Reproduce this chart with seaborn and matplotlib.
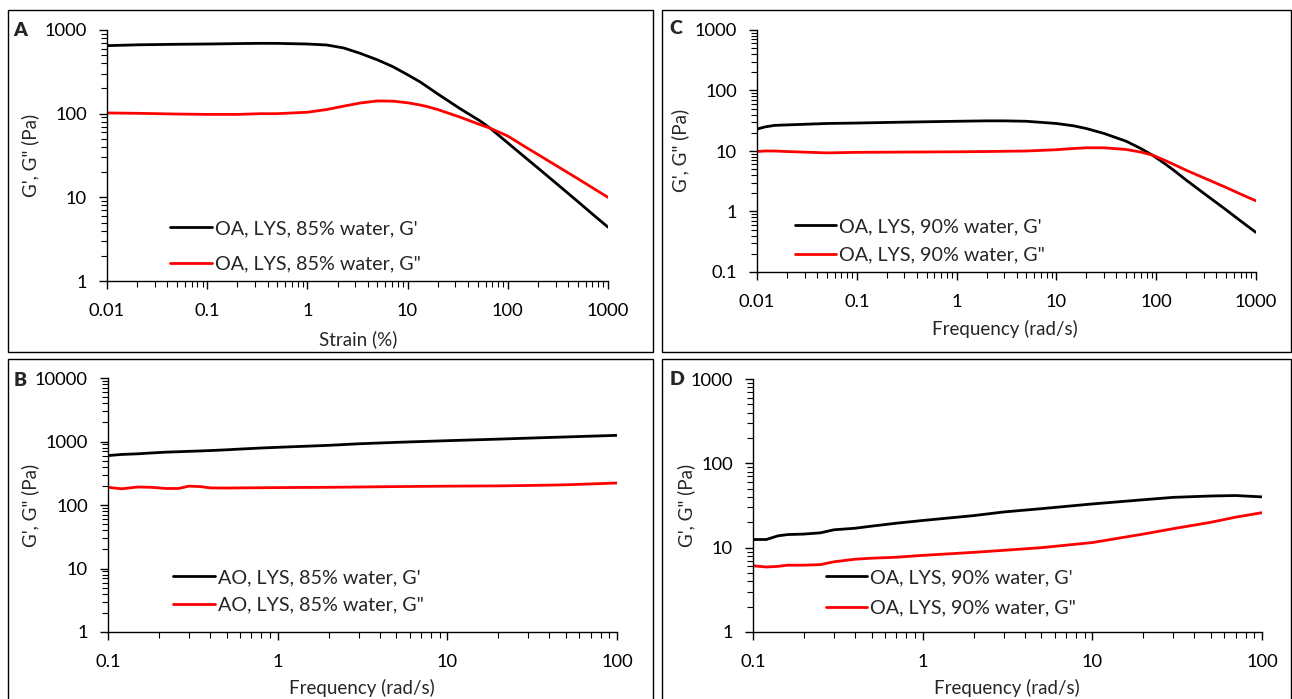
import numpy as np
import pandas as pd
import matplotlib
matplotlib.use("Agg")
import matplotlib.pyplot as plt
import seaborn as sns
from matplotlib.ticker import LogLocator, FuncFormatter, NullFormatter
from matplotlib.patches import Rectangle

# ---------------- data ----------------
# Panel A: strain sweep, OA, LYS, 85% water
a_x = [0.01, 0.02, 0.05, 0.1, 0.2, 0.34, 0.5, 1, 1.56, 2.3, 3.35, 5, 7.14, 10, 13.3, 15.5, 20, 33.3, 52.8, 66.7, 100, 150, 200, 300, 500, 700, 1000]
a_g1 = [650, 665, 675, 680, 688, 693, 692, 680, 662, 610, 527, 440, 364, 292, 240, 212, 172, 115, 82, 67, 44.7, 29.8, 22.4, 14.9, 8.9, 6.3, 4.4]
a_g2 = [102, 101, 99, 98, 98, 100, 100, 104, 112, 123, 134, 142, 141, 135, 127, 122, 112, 91, 74, 67, 54, 40, 32.5, 24.2, 16.7, 13, 10]

# Panel B: frequency sweep, AO, LYS, 85% water
b_x = [0.1, 0.12, 0.15, 0.18, 0.22, 0.26, 0.3, 0.35, 0.4, 0.5, 0.6, 0.8, 1, 2, 3, 5, 10, 20, 30, 50, 100]
b_g1 = [600, 625, 640, 660, 680, 690, 700, 710, 720, 740, 760, 790, 810, 870, 920, 970, 1030, 1090, 1130, 1180, 1250]
b_g2 = [190, 180, 192, 190, 182, 182, 198, 195, 186, 185, 186, 187, 188, 190, 192, 195, 198, 200, 203, 208, 222]

# Panel C: frequency sweep, OA, LYS, 90% water
c_x = [0.01, 0.012, 0.015, 0.02, 0.05, 0.1, 0.3, 1, 2, 3, 5, 10, 15, 20, 30, 50, 70, 91, 120, 150, 200, 300, 500, 700, 1000]
c_g1 = [23, 25, 26.5, 27, 28.5, 29, 30, 31, 31.5, 31.5, 31, 28.5, 26, 23.5, 19.5, 14.5, 11, 8.6, 6.3, 4.8, 3.3, 2.0, 1.07, 0.7, 0.45]
c_g2 = [9.8, 10, 10, 9.8, 9.3, 9.5, 9.6, 9.7, 9.8, 9.9, 10, 10.5, 11, 11.3, 11.3, 10.6, 9.6, 8.6, 7.1, 6.0, 4.8, 3.6, 2.5, 1.94, 1.5]

# Panel D: frequency sweep, OA, LYS, 90% water
d_x = [0.1, 0.12, 0.14, 0.16, 0.2, 0.25, 0.3, 0.4, 0.5, 0.7, 1, 2, 3, 5, 10, 20, 30, 50, 70, 100]
d_g1 = [12.5, 12.5, 13.8, 14.3, 14.5, 15, 16.3, 17, 18, 19.5, 21, 24, 26.5, 29, 33, 37, 39.5, 41, 41.5, 40]
d_g2 = [6.1, 5.9, 6.0, 6.2, 6.2, 6.3, 6.8, 7.3, 7.5, 7.7, 8.1, 8.8, 9.3, 10, 11.5, 14.5, 16.8, 20, 23, 26]

labels_a = ["OA, LYS, 85% water, G'", 'OA, LYS, 85% water, G"']
labels_b = ["AO, LYS, 85% water, G'", 'AO, LYS, 85% water, G"']
labels_c = ["OA, LYS, 90% water, G'", 'OA, LYS, 90% water, G"']
labels_d = ["OA, LYS, 90% water, G'", 'OA, LYS, 90% water, G"']

# ---------------- style ----------------
sns.set_style("ticks")
plt.rcParams['font.family'] = ['Lato', 'DejaVu Sans']
FS_TICK = 13.2
FS_LAB = 13.5
FS_LEG = 14.2
FS_LET = 14

W, H = 1292, 699
fig = plt.figure(figsize=(W / 100, H / 100), dpi=100)


def px_axes(l, t, r, b):
    return fig.add_axes([l / W, 1 - b / H, (r - l) / W, (b - t) / H])


def fmt(v, pos):
    return "{:g}".format(v)


def panel(box, axbox, x, g1, g2, labels, xlim, ylim, xlabel, xlab_pos, ylab_pos,
          letter_pos, letter, leg_anchor, leg_spacing):
    # panel frame
    l, t, r, b = box
    fig.patches.append(Rectangle((l / W, 1 - b / H), (r - l) / W, (b - t) / H,
                                 transform=fig.transFigure, fill=False,
                                 edgecolor="black", linewidth=1.0, zorder=0))
    ax = px_axes(*axbox)
    df = pd.DataFrame({
        "x": list(x) + list(x),
        "y": list(g1) + list(g2),
        "s": [labels[0]] * len(x) + [labels[1]] * len(x),
    })
    sns.lineplot(data=df, x="x", y="y", hue="s", palette=["#000000", "#ff0000"],
                 linewidth=2.0, ax=ax, legend=True)
    ax.set_xscale("log")
    ax.set_yscale("log")
    ax.set_xlim(*xlim)
    ax.set_ylim(*ylim)
    for axis in (ax.xaxis, ax.yaxis):
        axis.set_major_locator(LogLocator(base=10, numticks=20))
        axis.set_minor_locator(LogLocator(base=10, subs=np.arange(2, 10), numticks=20))
        axis.set_major_formatter(FuncFormatter(fmt))
        axis.set_minor_formatter(NullFormatter())
    ax.tick_params(which="major", direction="out", length=6, width=1.0,
                   labelsize=FS_TICK, color="black", labelcolor="black")
    ax.tick_params(which="minor", direction="out", length=4, width=0.8, color="black")
    ax.tick_params(axis="x", which="major", pad=10)
    ax.tick_params(axis="y", which="major", pad=8.5)
    sns.despine(ax=ax)
    for s in ("left", "bottom"):
        ax.spines[s].set_color("black")
        ax.spines[s].set_linewidth(1.0)
    ax.set_xlabel("")
    ax.set_ylabel("")
    ax.patch.set_alpha(0)
    fig.text(xlab_pos[0] / W, 1 - xlab_pos[1] / H, xlabel, ha="center", va="center", fontsize=FS_LAB)
    fig.text(ylab_pos[0] / W, 1 - ylab_pos[1] / H, 'G\', G" (Pa)', ha="center", va="center",
             rotation=90, fontsize=FS_LAB)
    fig.text(letter_pos[0] / W, 1 - letter_pos[1] / H, letter, ha="center", va="center",
             fontsize=FS_LET, fontweight="heavy")
    ax.legend(loc="upper left", bbox_to_anchor=leg_anchor, frameon=False,
              fontsize=FS_LEG, handlelength=2.1, handletextpad=0.15,
              labelspacing=leg_spacing, borderpad=0, borderaxespad=0, title=None)
    return ax


panel((8, 10, 653, 352), (107, 30, 608, 281), a_x, a_g1, a_g2, labels_a,
      (0.01, 1000), (1, 1000), "Strain (%)", (358, 339), (30, 155), (20, 30), "A",
      (0.126, 0.243), 0.94)
panel((662, 10, 1291, 352), (757, 30, 1256, 272), c_x, c_g1, c_g2, labels_c,
      (0.01, 1000), (0.1, 1000), "Frequency (rad/s)", (1005, 329), (680, 150), (676, 28), "C",
      (0.076, 0.222), 0.58)
panel((8, 359, 653, 710), (108, 378, 617, 632), b_x, b_g1, b_g2, labels_b,
      (0.1, 100), (1, 10000), "Frequency (rad/s)", (362, 688), (30, 505), (20, 381), "B",
      (0.128, 0.248), 0.53)
panel((662, 359, 1291, 710), (753, 379, 1262, 632), d_x, d_g1, d_g2, labels_d,
      (0.1, 100), (1, 1000), "Frequency (rad/s)", (1007, 688), (686, 505), (677, 380), "D",
      (0.143, 0.248), 0.68)

fig.savefig("out.png", dpi=100)
